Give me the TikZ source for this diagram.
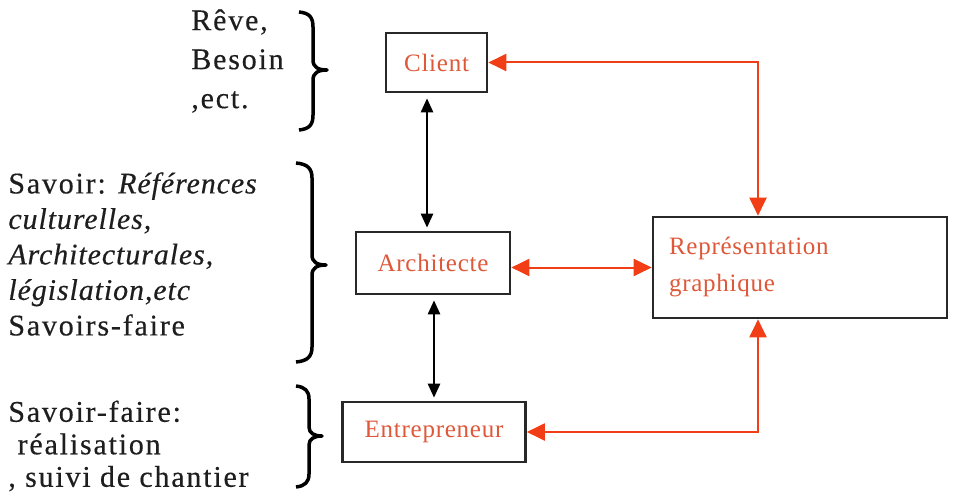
\documentclass[tikz,border=0pt]{standalone}
\usepackage{fontspec}
\setmainfont{Liberation Serif}
\newfontfamily\redfont[LetterSpace=3]{Liberation Serif}
\newfontfamily\leftfont[LetterSpace=6, FakeBold=0.4, ItalicFeatures={LetterSpace=3}]{Liberation Serif}
\usetikzlibrary{arrows.meta}

\definecolor{txtred}{RGB}{222,88,58}
\definecolor{arrred}{RGB}{242,62,22}
\definecolor{boxgray}{RGB}{40,40,40}
\definecolor{sidegray}{RGB}{30,30,30}

\tikzset{every picture/.style={line width=0.75pt}}
\tikzset{
  procbox/.style={draw=boxgray, line width=2.6pt, fill=white, inner sep=0pt, text=txtred, font=\redfont\fontsize{25}{40}\selectfont},
  redlink/.style={draw=arrred, line width=2pt, {Triangle[length=18pt,width=17pt]}-{Triangle[length=18pt,width=17pt]}},
  blacklink/.style={draw=black, line width=2.5pt, {Triangle[length=14pt,width=12pt]}-{Triangle[length=14pt,width=12pt]}, shorten <=5pt, shorten >=3pt},
  sidebrace/.style={draw=black, line width=3.5pt, line join=round},
  sidetext/.style={anchor=west, align=left, inner sep=0pt, text=sidegray, font=\leftfont\fontsize{30}{#1}\selectfont}
}

\begin{document}
\begin{tikzpicture}[x=1pt,y=1pt,yscale=-1,xscale=1]
\useasboundingbox (0,0) rectangle (955,495);

%Flowchart: Process [client]
\node (client) [procbox, minimum width=101, minimum height=59] at (436.5,62.5) {Client};
%Flowchart: Process [architecte]
\node (archi) [procbox, minimum width=154, minimum height=62] at (433,263) {Architecte};
%Flowchart: Process [entrepreneur]
\node (entre) [procbox, minimum width=183, minimum height=60] at (434,432) {Entrepreneur};
%Flowchart: Process [representation]
\node (repr) [procbox, minimum width=294, minimum height=101, text width=262, align=left] at (800,267.5) {\raisebox{-3pt}{Représentation}\\graphique};

%Straight Lines
\draw [blacklink] ([xshift=-9.5]client.south) -- ([xshift=-9.5]client.south |- archi.north);
\draw [blacklink] ([xshift=1]archi.south) -- ([xshift=1]archi.south |- entre.north);
\draw [redlink] (client.east) -| ([xshift=-42]repr.north);
\draw [redlink] (repr.west -| archi.east) -- (repr.west);
\draw [redlink] (entre.east) -| ([xshift=-42]repr.south);

%Braces
\draw [sidebrace] (299,12) .. controls (310,13) and (313,18) .. (313,27) -- (313,60) .. controls (313,67) and (318,70) .. (327,70) .. controls (318,70) and (313,73) .. (313,80) -- (313,115) .. controls (313,124) and (310,129) .. (299,130);
\draw [sidebrace] (296,163) .. controls (308,164) and (312,169) .. (312,178) -- (312,255) .. controls (312,262) and (317,265) .. (326,265) .. controls (317,265) and (312,268) .. (312,275) -- (312,347) .. controls (312,356) and (308,361) .. (296,362);
\draw [sidebrace] (296,386) .. controls (305,387) and (309,391) .. (309,399) -- (309,427) .. controls (309,433) and (314,436) .. (322,436) .. controls (314,436) and (309,439) .. (309,445) -- (309,474) .. controls (309,482) and (305,486) .. (296,487);

% Text Node
\node (besoin) [sidetext=39] at (191,61) {Rêve,\\Besoin\\,ect.};
% Text Node
\node (savoir) [sidetext=35.5] at (8,254) {Savoir: \textit{Références}\\\textit{culturelles,}\\\textit{Architecturales,}\\\textit{législation,etc}\\Savoirs-faire};
% Text Node
\node (faire) [sidetext=32.5] at (8,446) {Savoir-faire:\\\ réalisation\\, suivi de chantier};

\end{tikzpicture}
\end{document}
